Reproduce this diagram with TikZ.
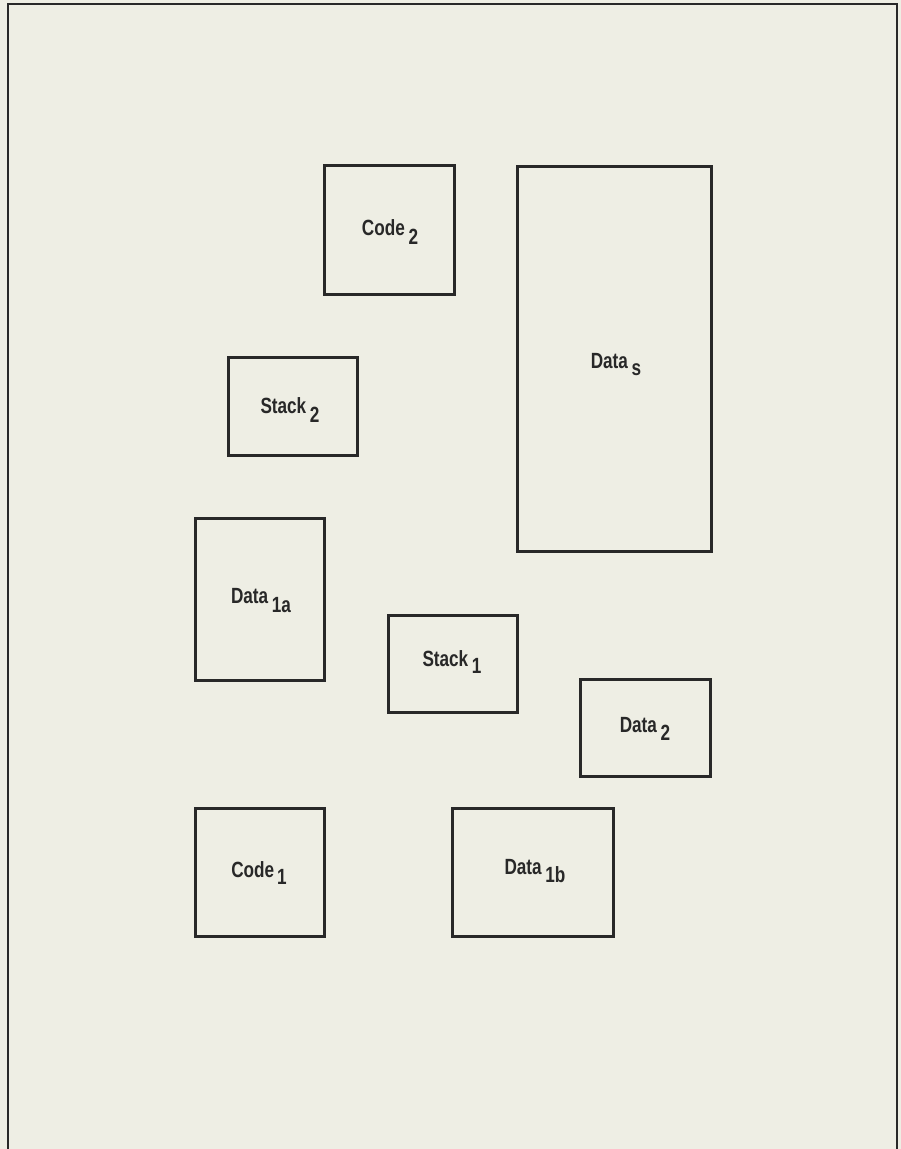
\documentclass[tikz,border=0pt]{standalone}
\usepackage{fontspec}
\setmainfont{Liberation Sans}[FakeStretch=0.78]
\definecolor{paper}{RGB}{238,238,228}
\definecolor{ink}{RGB}{40,40,40}
\begin{document}
\begin{tikzpicture}[x=1pt,y=-1pt,
  box/.style={draw=ink, line width=3pt, rectangle, inner sep=0pt},
  lbl/.style={anchor=base, text=ink, font=\bfseries\fontsize{22}{26}\selectfont, inner sep=0pt},
  frame/.style={draw=ink, line width=2.2pt}]
\fill[paper] (0,0) rectangle (901,1149);
\useasboundingbox (0,0) rectangle (901,1149);
\coordinate (fa) at (8,1149);
\coordinate (fb) at (8,4);
\coordinate (fc) at (897,4);
\coordinate (fd) at (897,1149);
\draw[frame] (fa) -- (fb) -- (fc) -- (fd);
% boxes
\node[box, minimum width=130pt, minimum height=129pt] (code2) at (389.5,229.5) {};
\node[box, minimum width=194pt, minimum height=385pt] (datas) at (614,358.5) {};
\node[box, minimum width=129pt, minimum height=98pt] (stack2) at (292.5,406) {};
\node[box, minimum width=129pt, minimum height=162pt] (data1a) at (259.5,599) {};
\node[box, minimum width=129pt, minimum height=97pt] (stack1) at (452.5,663.5) {};
\node[box, minimum width=130pt, minimum height=97pt] (data2) at (645,727.5) {};
\node[box, minimum width=129pt, minimum height=128pt] (code1) at (259.5,872) {};
\node[box, minimum width=161pt, minimum height=128pt] (data1b) at (532.5,872) {};
% labels
\node[lbl] (tcode2) at (390,235) {Code\,\raisebox{-9pt}{2}};
\node[lbl] (tdatas) at (616,368) {Data\,\raisebox{-7pt}{s}};
\node[lbl] (tstack2) at (290,413) {Stack\,\raisebox{-9pt}{2}};
\node[lbl] (tdata1a) at (261,603) {Data\,\raisebox{-9pt}{1a}};
\node[lbl] (tstack1) at (452,666) {Stack\,\raisebox{-7pt}{1}};
\node[lbl] (tdata2) at (645,732) {Data\,\raisebox{-8pt}{2}};
\node[lbl] (tcode1) at (259,877) {Code\kern3pt\raisebox{-7pt}{1}};
\node[lbl] (tdata1b) at (535,874) {Data\,\raisebox{-8pt}{1b}};
\end{tikzpicture}
\end{document}
